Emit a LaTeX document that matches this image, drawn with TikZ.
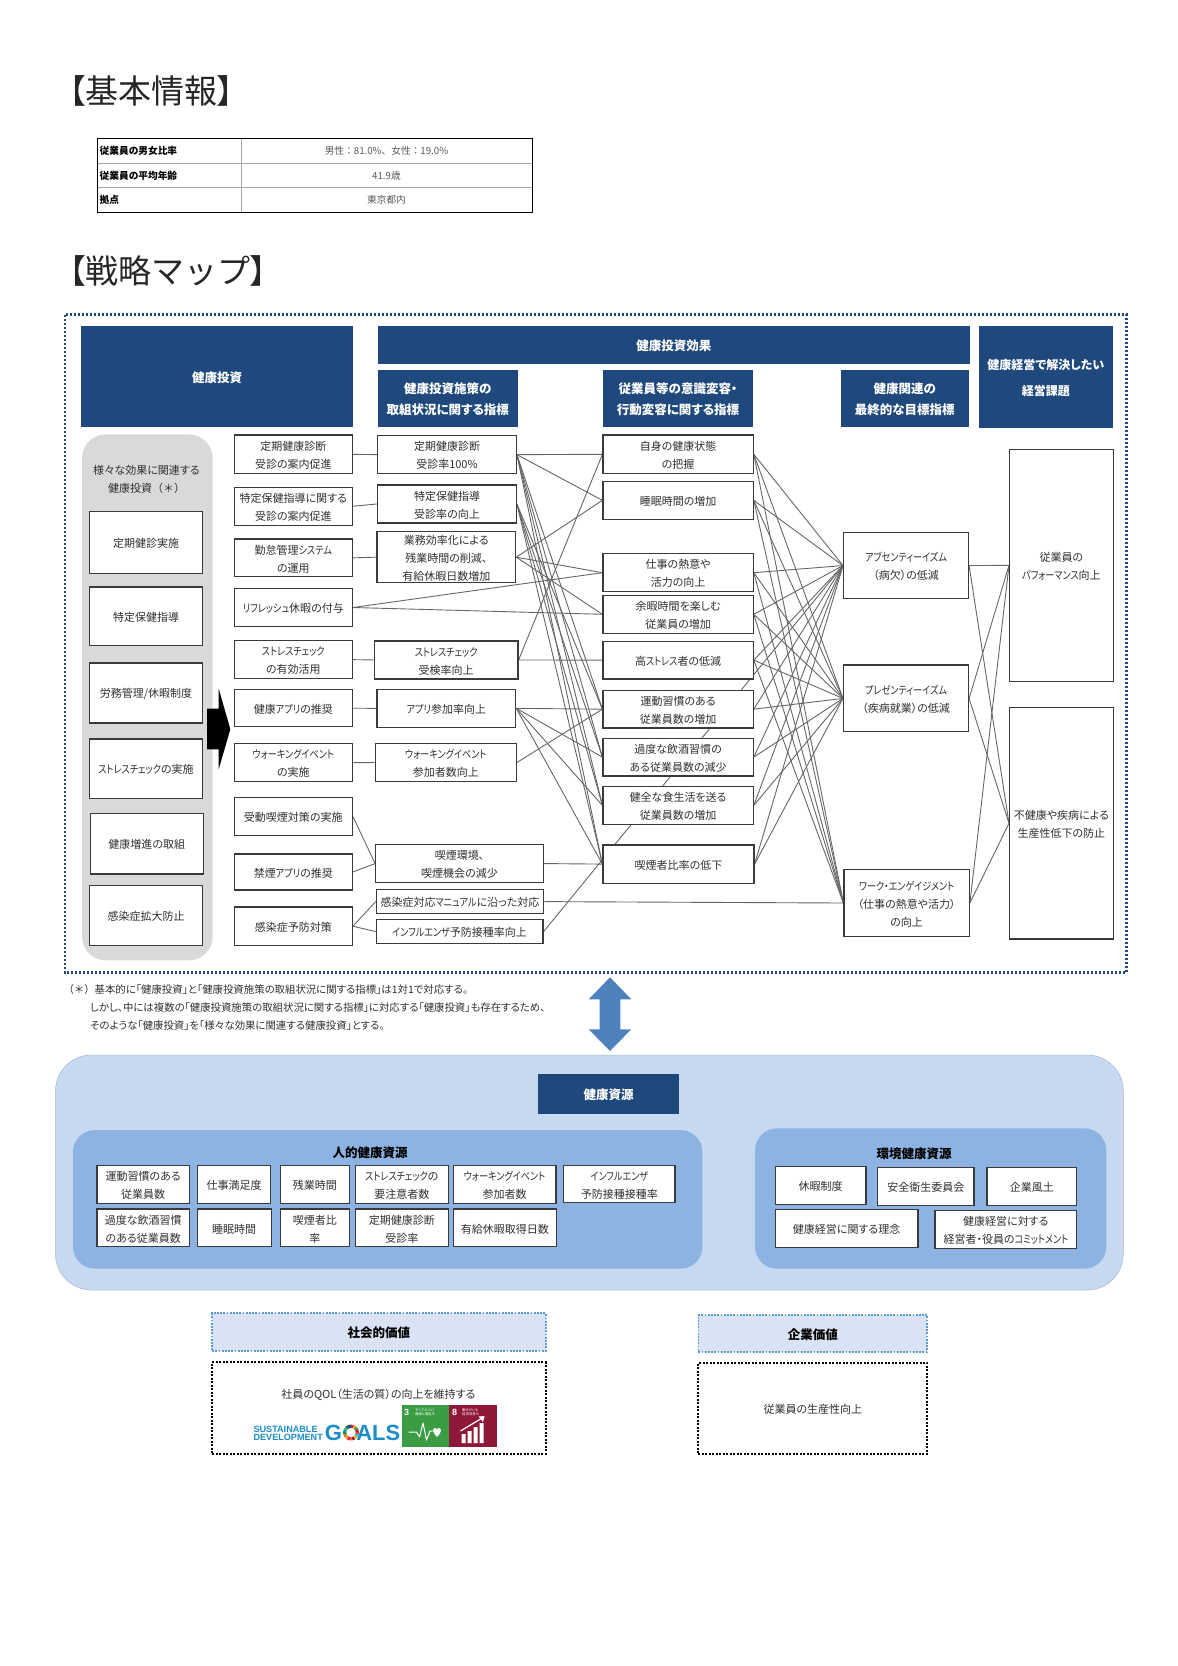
\documentclass[tikz,border=0pt]{standalone}
\usepackage{fontspec}
\setmainfont{Noto Sans CJK JP}[RawFeature={+palt}]
\newfontfamily\sdgfont{Liberation Sans}
\newfontfamily\kanaf{Noto Sans CJK JP}[RawFeature={+palt},FakeStretch=0.83]
\newfontfamily\fw{Noto Sans CJK JP}
\newcommand{\kn}[1]{{\kanaf #1}}
\pgfdeclarelayer{edges}
\pgfsetlayers{edges,main}
\definecolor{navy}{HTML}{1F497D}
\definecolor{txt}{HTML}{303030}
\definecolor{lineg}{HTML}{666666}
\definecolor{bord}{HTML}{3A3A3A}
\definecolor{panelA}{HTML}{C6D9F1}
\definecolor{panelB}{HTML}{8DB3E2}
\definecolor{grayp}{HTML}{D9D9D9}
\definecolor{arrowb}{HTML}{4F81BD}
\definecolor{lightb}{HTML}{DAE3F3}
\definecolor{dotb}{HTML}{5B9BD5}
\definecolor{sdgblue}{HTML}{1B8DC9}
\definecolor{sdgthree}{HTML}{3A9D44}
\definecolor{sdgeight}{HTML}{8F1838}
\newcommand{\fs}[2]{\fontsize{#1}{#2}\selectfont}
\newcommand{\bx}[7][bxs]{\node[#1,minimum width={(#5-#3)*1pt},minimum height={(#6-#4)*1pt}] (#2) at ({(#3+#5)/2},{(#4+#6)/2}) {\rule{0pt}{1.02em}#7};}
\tikzset{
  bxs/.style={draw=bord,line width=1.2pt,fill=white,inner sep=0pt,align=center,text=txt,font=\fs{11}{18}},
  head/.style={fill=navy,inner sep=0pt,align=center,text=white,font=\bfseries\fs{12.5}{21}},
  headb/.style={head,font=\bfseries\fs{12}{26}},
  dotblue/.style={draw=dotb,fill=lightb,line width=1.8pt,dash pattern=on 1.8pt off 1.4pt,inner sep=0pt,align=center,text=black,font=\bfseries\fs{12.5}{18}},
  dotblack/.style={draw=black,fill=white,line width=2pt,dash pattern=on 2pt off 1.5pt,inner sep=0pt,align=center,text=txt,font=\fs{11}{18}},
  edge/.style={draw=lineg,line width=0.9pt},
  plain/.style={inner sep=0pt,align=center,text=txt,font=\fs{11}{18}},
  titletxt/.style={inner sep=0pt,anchor=west,text=black!85,font=\fs{33}{38}},
  celll/.style={inner sep=0pt,anchor=west,text=black,font=\bfseries\fs{9.7}{12}},
  cellv/.style={inner sep=0pt,text=black!65,font=\fs{9.7}{12}},
  note/.style={inner sep=0pt,anchor=west,text=txt,font=\fs{10.4}{12}},
  panelt/.style={inner sep=0pt,text=black,font=\bfseries\fs{12.5}{15}},
  tiny/.style={inner sep=0pt,anchor=west,align=left,text=white,font=\fs{3.4}{4.2}},
  tilenum/.style={inner sep=0pt,text=white,font=\sdgfont\bfseries\fs{9}{9}}
}
\begin{document}
\begin{tikzpicture}[x=1pt,y=-1pt]
\useasboundingbox (-1,0) rectangle (1177,1666);
% titles
\node[titletxt] (t1) at (68,91) {【基本情報】};
\node[titletxt] (t2) at (68,270.5) {【戦略{\fw マップ}】};
% table
\draw[black!35,line width=0.9pt] (240,138.7) -- (240,212) (96,163.3) -- (531,163.3) (96,187.7) -- (531,187.7);
\draw[black,line width=1pt] (96,138.7) rectangle (531,212);
\node[celll] (c1) at (98.5,151) {従業員の男女比率};
\node[celll] (c2) at (98.5,175.5) {従業員の平均年齢};
\node[celll] (c3) at (98.5,199.8) {拠点};
\node[cellv] (v1) at (385.5,151) {\fw 男性：81.0\%、女性：19.0\%};
\node[cellv] (v2) at (385.5,175.5) {41.9歳};
\node[cellv] (v3) at (385.5,199.8) {東京都内};
% outer dotted frame
\draw[navy,line width=2.2pt,dash pattern=on 2.2pt off 1.8pt] (64,314.5) rectangle (1125.5,972.5);
% headers
\bx[head]{h1}{80.4}{326}{352}{427}{健康投資}
\bx[head]{h2}{377}{326}{968.5}{364}{健康投資効果}
\bx[head]{h3}{377}{370}{516.6}{427}{健康投資施策の\\取組状況に関する指標}
\bx[head]{h4}{602}{370}{752}{427}{従業員等の意識変容・\\行動変容に関する指標}
\bx[head]{h5}{839.6}{370}{967.8}{427}{健康関連の\\最終的な目標指標}
\bx[headb]{h6}{977.6}{326}{1112}{428}{健康経営で解決したい\\経営課題}
% gray panel
\draw[fill=grayp,draw=none,rounded corners=24pt] (81,434.3) rectangle (211.7,960.4);
\node[plain] (pt) at (145.5,479.5) {様々な効果に関連する\\健康投資{\fw （＊）}};
\bx{p1}{88.3}{511.4}{201.7}{573.6}{定期健診実施}
\bx{p2}{88.3}{587}{201.7}{645.7}{特定保健指導}
\bx{p3}{88.3}{662.9}{201.7}{722.9}{労務管理/休暇制度}
\bx{p4}{88.3}{739}{201.7}{798.6}{\kn{ストレスチェック}の実施}
\bx{p5}{89.3}{813.6}{202.3}{874}{健康増進の取組}
\bx{p6}{88.3}{885.7}{201.7}{945.4}{感染症拡大防止}
% black arrow
\fill[black] (206,708.6) -- (217.7,708.6) -- (217.7,688.6) -- (229.3,729.3) -- (217.7,769.3) -- (217.7,749.3) -- (206,749.3) -- cycle;
% column 2
\bx{i1}{233.3}{435}{351.3}{473.6}{定期健康診断\\受診の案内促進}
\bx{i2}{233.3}{487.1}{351.3}{525.4}{特定保健指導に関する\\受診の案内促進}
\bx{i3}{233.3}{538.9}{351.3}{576.8}{勤怠管理\kn{システム}\\の運用}
\bx{i4}{233.3}{588.6}{351.3}{626.4}{\kn{リフレッシュ}休暇の付与}
\bx{i5}{233.3}{640.7}{351.3}{678.6}{\kn{ストレスチェック}\\の有効活用}
\bx{i6}{233.3}{689.6}{351.3}{726.8}{健康\kn{アプリ}の推奨}
\bx{i7}{233.3}{743.6}{351.3}{781.8}{\kn{ウォーキングイベント}\\の実施}
\bx{i8}{233.3}{797.5}{351.3}{835.4}{受動喫煙対策の実施}
\bx{i9}{233.3}{853.9}{351.3}{890}{禁煙\kn{アプリ}の推奨}
\bx{i10}{233.3}{907}{351.3}{945.4}{感染症予防対策}
% column 3
\bx{m1}{376.7}{435.7}{515.3}{473.6}{定期健康診断\\受診率100\%}
\bx{m2}{376.7}{485}{515.3}{522.9}{特定保健指導\\受診率の向上}
\bx{m3}{376}{531.8}{514.7}{582.5}{業務効率化による\\残業時間の削減、\\有給休暇日数増加}
\bx{m4}{373.3}{641}{517}{678.9}{\kn{ストレスチェック}\\受検率向上}
\bx{m5}{376}{689.6}{514.7}{727.1}{\kn{アプリ}参加率向上}
\bx{m6}{374.3}{743.6}{515.3}{781.4}{\kn{ウォーキングイベント}\\参加者数向上}
\bx{m7}{374.7}{844.6}{542.3}{882.5}{喫煙環境、\\喫煙機会の減少}
\bx{m8}{375.3}{889.6}{542.7}{913.6}{感染症対応\kn{マニュアル}に沿った対応}
\bx{m9}{375.3}{919.6}{542}{943.6}{\kn{インフルエンザ}予防接種率向上}
% column 4
\bx{e1}{602}{435}{752.2}{473.6}{自身の健康状態\\の把握}
\bx{e2}{602}{481.4}{752.2}{519.3}{睡眠時間の増加}
\bx{e3}{602}{553.6}{752.2}{591.8}{仕事の熱意や\\活力の向上}
\bx{e4}{602}{595.4}{752.2}{633.2}{余暇時間を楽しむ\\従業員の増加}
\bx{e5}{602}{641.4}{752.2}{678.9}{高\kn{ストレス}者の低減}
\bx{e6}{602}{690.4}{752.2}{727.9}{運動習慣のある\\従業員数の増加}
\bx{e7}{602}{738.2}{752.2}{776}{過度な飲酒習慣の\\ある従業員数の減少}
\bx{e8}{602}{786.4}{752.2}{824.3}{健全な食生活を送る\\従業員数の増加}
\bx{e9}{602}{845}{753}{883.2}{喫煙者比率の低下}
% column 5
\bx{o1}{842.6}{532.5}{967.5}{598.6}{\kn{アブセンティーイズム}\\（病欠）の低減}
\bx{o2}{842.6}{665}{967.5}{731.8}{\kn{プレゼンティーイズム}\\（疾病就業）の低減}
\bx{o3}{843}{869.6}{968.3}{936.4}{\kn{ワーク・エンゲイジメント}\\（仕事の熱意や活力）\\の向上}
% column 6
\bx{g1}{1008.6}{449.3}{1112.2}{681.4}{従業員の\\\kn{パフォーマンス}向上}
\bx{g2}{1008.6}{707.5}{1112.2}{939}{不健康や疾病による\\生産性低下の防止}
% connectors
\begin{pgfonlayer}{edges}
\foreach \a/\b in {i1/m1,i2/m2,i3/m3,i5/m4,i6/m5,i7/m6,i8/m7,i9/m7,i10/m8,i10/m9,
  m1/e1,m1/e2,m1/e6,m1/e7,m1/e8,m1/e9,
  m2/e6,m2/e7,m2/e8,m2/e9,
  m3/e2,m3/e3,m3/e4,
  i4/e3,i4/e4,
  m4/e1,m4/e5,
  m5/e6,m5/e7,m5/e8,m5/e9,
  m6/e6,m7/e9,m8/o3,m9/o1,
  e1/o1,e2/o1,e3/o1,e4/o1,e5/o1,e6/o1,e7/o1,e8/o1,e9/o1,
  e1/o2,e2/o2,e3/o2,e4/o2,e5/o2,e6/o2,e7/o2,e8/o2,e9/o2,
  e1/o3,e2/o3,e3/o3,e4/o3,e5/o3,
  o1/g1,o1/g2,o2/g1,o2/g2,o3/g1,o3/g2}
  \draw[edge] (\a.east) -- (\b.west);
\end{pgfonlayer}
% footnote
\node[note] (n1) at (62.3,989.3) {{\fw （＊）}基本的に「健康投資」と「健康投資施策の取組状況に関する指標」は1対1で対応する。};
\node[note] (n2) at (89,1007.7) {しかし、中には複数の「健康投資施策の取組状況に関する指標」に対応する「健康投資」も存在するため、};
\node[note] (n3) at (89,1025.7) {そのような「健康投資」を「様々な効果に関連する健康投資」とする。};
% double arrow
\fill[arrowb] (609,977.3) -- (630.3,999.3) -- (619.3,999.3) -- (619.3,1029.3) -- (630.3,1029.3) -- (609,1051) -- (587.7,1029.3) -- (598.7,1029.3) -- (598.7,999.3) -- (587.7,999.3) -- cycle;
% health resources
\draw[fill=panelA,draw=panelA!85!black,line width=0.5pt,rounded corners=36pt] (54.5,1055) rectangle (1122.3,1290);
\bx[head]{r0}{537}{1074}{678}{1114.3}{健康資源}
\draw[fill=panelB,draw=none,rounded corners=22pt] (72,1130) rectangle (701.4,1268.7);
\draw[fill=panelB,draw=none,rounded corners=22pt] (754,1128.3) rectangle (1105.3,1268.7);
\node[panelt] (r1) at (369.2,1152.3) {人的健康資源};
\node[panelt] (r2) at (913,1153.3) {環境健康資源};
\bx{a1}{96}{1165.7}{188.4}{1203.3}{運動習慣のある\\従業員数}
\bx{a2}{196.6}{1165.7}{269.6}{1203.3}{仕事満足度}
\bx{a3}{279.6}{1165.7}{348.1}{1203.3}{残業時間}
\bx{a4}{354.6}{1165.7}{447.1}{1203.3}{\kn{ストレスチェック}の\\要注意者数}
\bx{a5}{452.1}{1165.7}{554.9}{1203.3}{\kn{ウォーキングイベント}\\参加者数}
\bx{a6}{562.8}{1165.3}{673.9}{1202.7}{\kn{インフルエンザ}\\予防接種接種率}
\bx{a7}{96}{1209}{188.4}{1246.7}{過度な飲酒習慣\\のある従業員数}
\bx{a8}{196.3}{1209}{270.1}{1246.7}{睡眠時間}
\bx{a9}{279.6}{1209}{348.1}{1246.7}{喫煙者比\\率}
\bx{a10}{354.6}{1209}{447.1}{1246.7}{定期健康診断\\受診率}
\bx{a11}{452.1}{1209}{555.6}{1246.7}{有給休暇取得日数}
\bx{b1}{774.3}{1166.7}{865}{1204.7}{休暇制度}
\bx{b2}{876.7}{1167.3}{973}{1205.3}{安全衛生委員会}
\bx{b3}{986}{1167.3}{1075.7}{1205.3}{企業風土}
\bx{b4}{774.3}{1209.7}{917}{1247.3}{健康経営に関する理念}
\bx{b5}{934}{1210.3}{1075.7}{1248.3}{健康経営に対する\\経営者・役員の\kn{コミットメント}}
% values
\bx[dotblue]{s1}{211.2}{1313.3}{544.6}{1350.7}{社会的価値}
\bx[dotblue]{s2}{697.4}{1315}{926.2}{1351.7}{企業価値}
\bx[dotblack]{s3}{211.2}{1362.3}{544.6}{1453.7}{}
\bx[dotblack]{s4}{697.4}{1363}{926.2}{1454}{従業員の生産性向上}
\node[plain] (q1) at (377.5,1394.3) {社員のQOL（生活の質）の向上を維持する};
% SDG logo
\node[inner sep=0pt,align=left,text=sdgblue,font=\sdgfont\bfseries\fs{9.1}{8.4}] (l1) at (287.2,1433.3) {SUSTAINABLE\\DEVELOPMENT};
\node[inner sep=0pt,text=sdgblue,font=\sdgfont\bfseries\fs{22}{22}] (l2) at (332.5,1432.5) {G};
\node[inner sep=0pt,anchor=east,text=sdgblue,font=\sdgfont\bfseries\fs{22}{22}] (l3) at (399.5,1432.5) {ALS};
\foreach \i/\c in {0/E5243B,1/DDA63A,2/4C9F38,3/C5192D,4/FF3A21,5/26BDE2,6/FCC30B,7/A21942,8/FD6925,9/DD1367,10/FD9D24,11/BF8B2E,12/3F7E44,13/0A97D9,14/56C02B,15/00689D,16/19486A}{
  \definecolor{wedge}{HTML}{\c}
  \pgfmathsetmacro{\sa}{90-\i*360/17}
  \pgfmathsetmacro{\sb}{90-(\i+1)*360/17}
  \fill[wedge,shift={(350,1432.5)}] (\sa:4.6pt) arc[start angle=\sa,end angle=\sb,radius=4.6pt] -- (\sb:8pt) arc[start angle=\sb,end angle=\sa,radius=8pt] -- cycle;
}
% goal tiles
\fill[sdgthree] (400.5,1404.7) rectangle (448.2,1446.7);
\fill[sdgeight] (448.2,1404.7) rectangle (496.2,1446.7);
\node[tilenum] (n3t) at (405.5,1412) {3};
\node[tiny] (n3x) at (414,1412) {すべての人に\\健康と福祉を};
\node[tilenum] (n8t) at (453.5,1412) {8};
\node[tiny] (n8x) at (461,1412) {働きがいも\\経済成長も};
\draw[white,line width=1pt,line join=round] (407.5,1432) -- (415.5,1432) -- (418.5,1437) -- (422,1423) -- (425.5,1440) -- (429,1431) -- (431.5,1431);
\fill[white] (436,1437) .. controls (431.5,1433) and (431,1428) .. (434,1428) .. controls (435,1428) and (436,1429) .. (436,1430) .. controls (436,1429) and (437,1428) .. (438,1428) .. controls (441,1428) and (440.5,1433) .. (436,1437) -- cycle;
\fill[white] (460.5,1443) rectangle (464.5,1434) (466.5,1443) rectangle (470.5,1431) (472.5,1443) rectangle (476.5,1427) (478.5,1443) rectangle (482.5,1423);
\draw[white,line width=1.2pt] (459.5,1431) -- (479.5,1419);
\fill[white] (483.5,1416) -- (482,1422) -- (477.5,1416.5) -- cycle;
\end{tikzpicture}
\end{document}
